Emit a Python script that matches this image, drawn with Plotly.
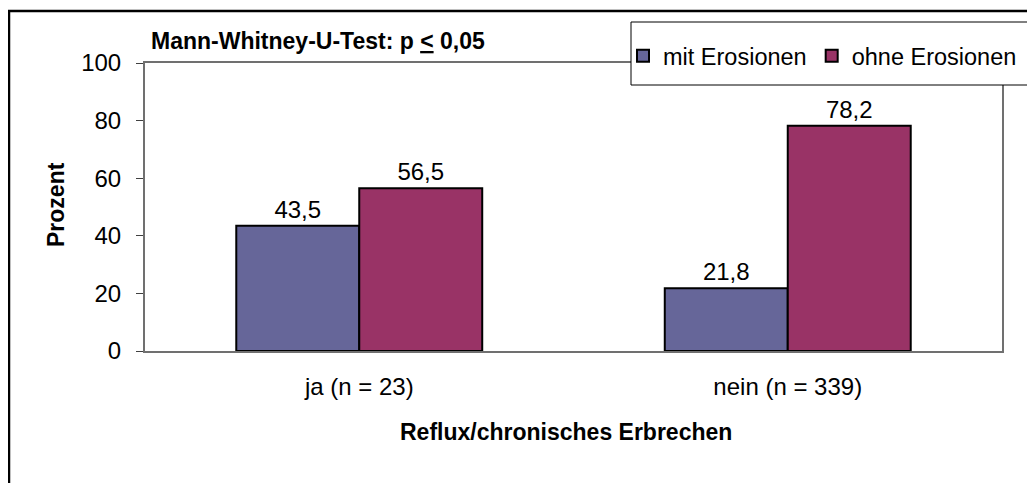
import plotly.graph_objects as go

categories = ["ja (n = 23)", "nein (n = 339)"]
mit_erosionen = [43.5, 21.8]
ohne_erosionen = [56.5, 78.2]
series_names = ["mit Erosionen", "ohne Erosionen"]
y_ticks = [0, 20, 40, 60, 80, 100]

colors = ["#666699", "#993366"]

# the page body adds an 8px margin, so screen coords are shifted by OFF
OFF = 8
W, H = 1035, 483
L, T = 145 - OFF, 63 - OFF
R = W - (1002 - OFF)
B = H - (351 - OFF)
pw, ph = W - L - R, H - T - B


def px(x):
    return (x - OFF - L) / pw


def py(y):
    return (H - B - (y - OFF)) / ph


def fmt(v):
    return f"{v:.1f}".replace(".", ",")


fig = go.Figure()
for name, vals, col in zip(series_names, [mit_erosionen, ohne_erosionen], colors):
    fig.add_trace(go.Bar(
        name=name, x=categories, y=vals,
        marker=dict(color=col, line=dict(color="black", width=2)),
        text=[fmt(v) for v in vals], textposition="outside",
        textfont=dict(size=24, color="black"), cliponaxis=False,
    ))

fig.update_layout(
    width=W, height=H,
    margin=dict(l=L, r=R, t=T, b=B),
    paper_bgcolor="white", plot_bgcolor="white",
    font=dict(family="Liberation Sans, Arial", size=24, color="black"),
    barmode="group", bargap=0.426, bargroupgap=0,
    showlegend=True,
    legend=dict(
        orientation="h", x=px(623), y=py(56), xanchor="left", yanchor="middle",
        borderwidth=0, bgcolor="rgba(0,0,0,0)",
        font=dict(size=23.5), itemwidth=30,
    ),
    xaxis=dict(
        showline=True, linecolor="#707070", linewidth=2, mirror=True,
        ticks="", ticklabelstandoff=13, showgrid=False,
    ),
    yaxis=dict(
        range=[0, 100], tickvals=y_ticks, showline=True, linecolor="#707070",
        linewidth=2, mirror=True, ticks="outside", ticklen=7,
        tickcolor="#404040", ticklabelstandoff=10, showgrid=False, zeroline=False,
    ),
)

fig.add_annotation(
    text="<b>Mann-Whitney-U-Test: p <u>&lt;</u> 0,05</b>",
    xref="paper", yref="paper", x=px(149), y=py(41),
    xanchor="left", yanchor="middle", showarrow=False, font=dict(size=23),
)
fig.add_annotation(
    text="<b>Prozent</b>", textangle=-90,
    xref="paper", yref="paper", x=px(56), y=py(205),
    xanchor="center", yanchor="middle", showarrow=False, font=dict(size=23),
)
fig.add_annotation(
    text="<b>Reflux/chronisches Erbrechen</b>",
    xref="paper", yref="paper", x=px(566), y=py(432),
    xanchor="center", yanchor="middle", showarrow=False, font=dict(size=23),
)

# legend frame (white, covers the plot frame)
fig.add_shape(
    type="rect", xref="paper", yref="paper",
    x0=px(631), x1=px(1028), y0=py(22), y1=py(85),
    line=dict(color="black", width=1), fillcolor="white", layer="above",
)

# outer frame around the whole chart
fig.add_shape(
    type="rect", xref="paper", yref="paper",
    x0=px(9), x1=px(1060), y0=py(11), y1=py(520),
    line=dict(color="black", width=2.5), layer="below",
)

fig.write_html("out.html")
